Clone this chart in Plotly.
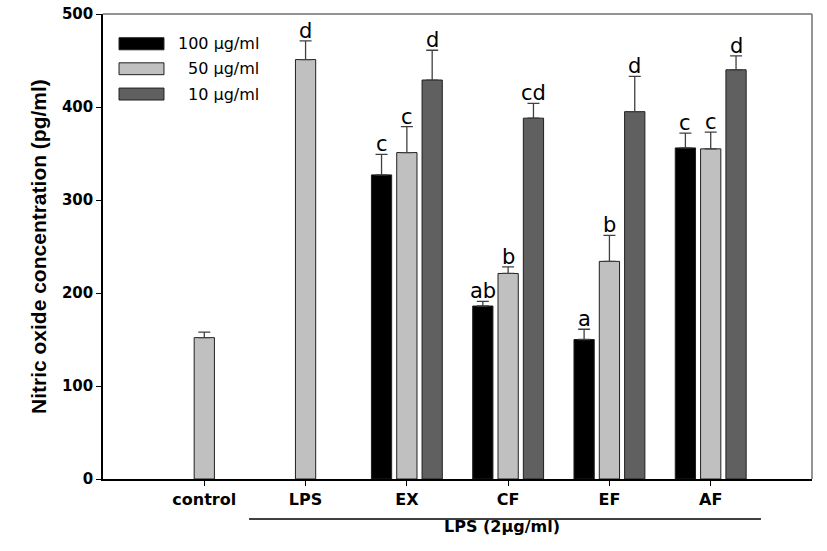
import plotly.graph_objects as go

categories = ["control", "LPS", "EX", "CF", "EF", "AF"]
series_names = ["100 μg/ml", "50 μg/ml", "10 μg/ml"]
series_colors = ["#000000", "#c0c0c0", "#606060"]

v100 = [None, None, 327, 186, 150, 356]
e100 = [0, 0, 22, 5, 11, 16]
v50 = [152, 451, 351, 221, 234, 355]
e50 = [6, 20, 28, 7, 28, 18]
v10 = [None, None, 429, 388, 395, 440]
e10 = [0, 0, 32, 16, 38, 15]

l100 = ["", "", "c", "ab", "a", "c"]
l50 = ["", "d", "c", "b", "b", "c"]
l10 = ["", "", "d", "cd", "d", "d"]

y_ticks = [0, 100, 200, 300, 400, 500]
y_title = "Nitric oxide concentration (pg/ml)"
group_label = "LPS (2μg/ml)"

values = [v100, v50, v10]
errors = [e100, e50, e10]
letters = [l100, l50, l10]
offsets = [-0.25, 0.0, 0.25]

fig = go.Figure()
for name, col, vals, errs in zip(series_names, series_colors, values, errors):
    fig.add_trace(go.Bar(
        x=categories, y=vals, name=name,
        marker=dict(color=col, line=dict(color="#202020", width=1)),
        error_y=dict(type="data", symmetric=False, array=errs,
                     arrayminus=[0] * len(errs), color="#404040",
                     thickness=1.3, width=6),
        showlegend=False,
    ))

annotations = []
for vals, errs, labs, off in zip(values, errors, letters, offsets):
    for i, (v, e, lab) in enumerate(zip(vals, errs, labs)):
        if v is None or not lab:
            continue
        annotations.append(dict(
            x=i + off, y=v + e, xref="x", yref="y", text=lab,
            showarrow=False, yanchor="bottom", yshift=-4,
            font=dict(family="DejaVu Sans", size=21, color="#000000"),
        ))

# y-axis title
annotations.append(dict(
    x=-0.11, y=0.5, xref="paper", yref="paper", text="<b>%s</b>" % y_title,
    textangle=-90, showarrow=False,
    font=dict(family="Liberation Sans", size=21, color="#000000"),
))
# group label
annotations.append(dict(
    x=0.563, y=-0.126, xref="paper", yref="paper", text="<b>%s</b>" % group_label,
    showarrow=False,
    font=dict(family="DejaVu Sans", size=16, color="#000000"),
))

shapes = [
    dict(type="line", xref="paper", yref="paper", x0=0.206, x1=0.928,
         y0=-0.086, y1=-0.086, line=dict(color="#000000", width=1.3)),
    dict(type="line", xref="paper", yref="paper", x0=0, x1=1, y0=1, y1=1,
         line=dict(color="#707070", width=1.5)),
    dict(type="line", xref="paper", yref="paper", x0=1, x1=1, y0=0, y1=1,
         line=dict(color="#707070", width=1.5)),
]

# manual legend
leg_box_y = [(0.923, 0.949), (0.8695, 0.895), (0.815, 0.8407)]
for (y0, y1), col, name in zip(leg_box_y, series_colors, series_names):
    shapes.append(dict(type="rect", xref="paper", yref="paper",
                       x0=0.0226, x1=0.086, y0=y0, y1=y1,
                       fillcolor=col, line=dict(color="#202020", width=1)))
    annotations.append(dict(
        x=0.2228, y=(y0 + y1) / 2, xref="paper", yref="paper", text=name,
        showarrow=False, xanchor="right", yanchor="middle",
        font=dict(family="DejaVu Sans", size=16, color="#000000"),
    ))

fig.update_layout(
    template="none",
    width=827, height=551,
    margin=dict(l=103, r=15, t=14, b=72, autoexpand=False),
    paper_bgcolor="white", plot_bgcolor="white",
    barmode="group", bargap=0.25, bargroupgap=0.2,
    annotations=annotations, shapes=shapes,
    showlegend=False,
    xaxis=dict(
        type="category", range=[-1, 6], automargin=False,
        showline=True, linecolor="#000000", linewidth=1.5,
        ticks="outside", ticklen=5, tickcolor="#000000",
        tickfont=dict(family="DejaVu Sans", size=16, color="#000000"),
        tickvals=categories, ticktext=["<b>%s</b>" % c for c in categories],
        showgrid=False, zeroline=False,
    ),
    yaxis=dict(
        range=[0, 500], tickvals=y_ticks, automargin=False,
        ticklabeloverflow="allow",
        ticktext=["<b>%d</b>" % t for t in y_ticks],
        showline=True, linecolor="#000000", linewidth=1.5,
        ticks="outside", ticklen=5, tickcolor="#000000",
        tickfont=dict(family="DejaVu Sans", size=15, color="#000000"),
        showgrid=False, zeroline=False,
    ),
)

# remove the default 8px page margin so the figure sits at the window's corner
fig.write_html(
    "out.html",
    config={"displayModeBar": False},
    post_script="document.body.style.margin='0';document.body.style.overflow='hidden';",
)
